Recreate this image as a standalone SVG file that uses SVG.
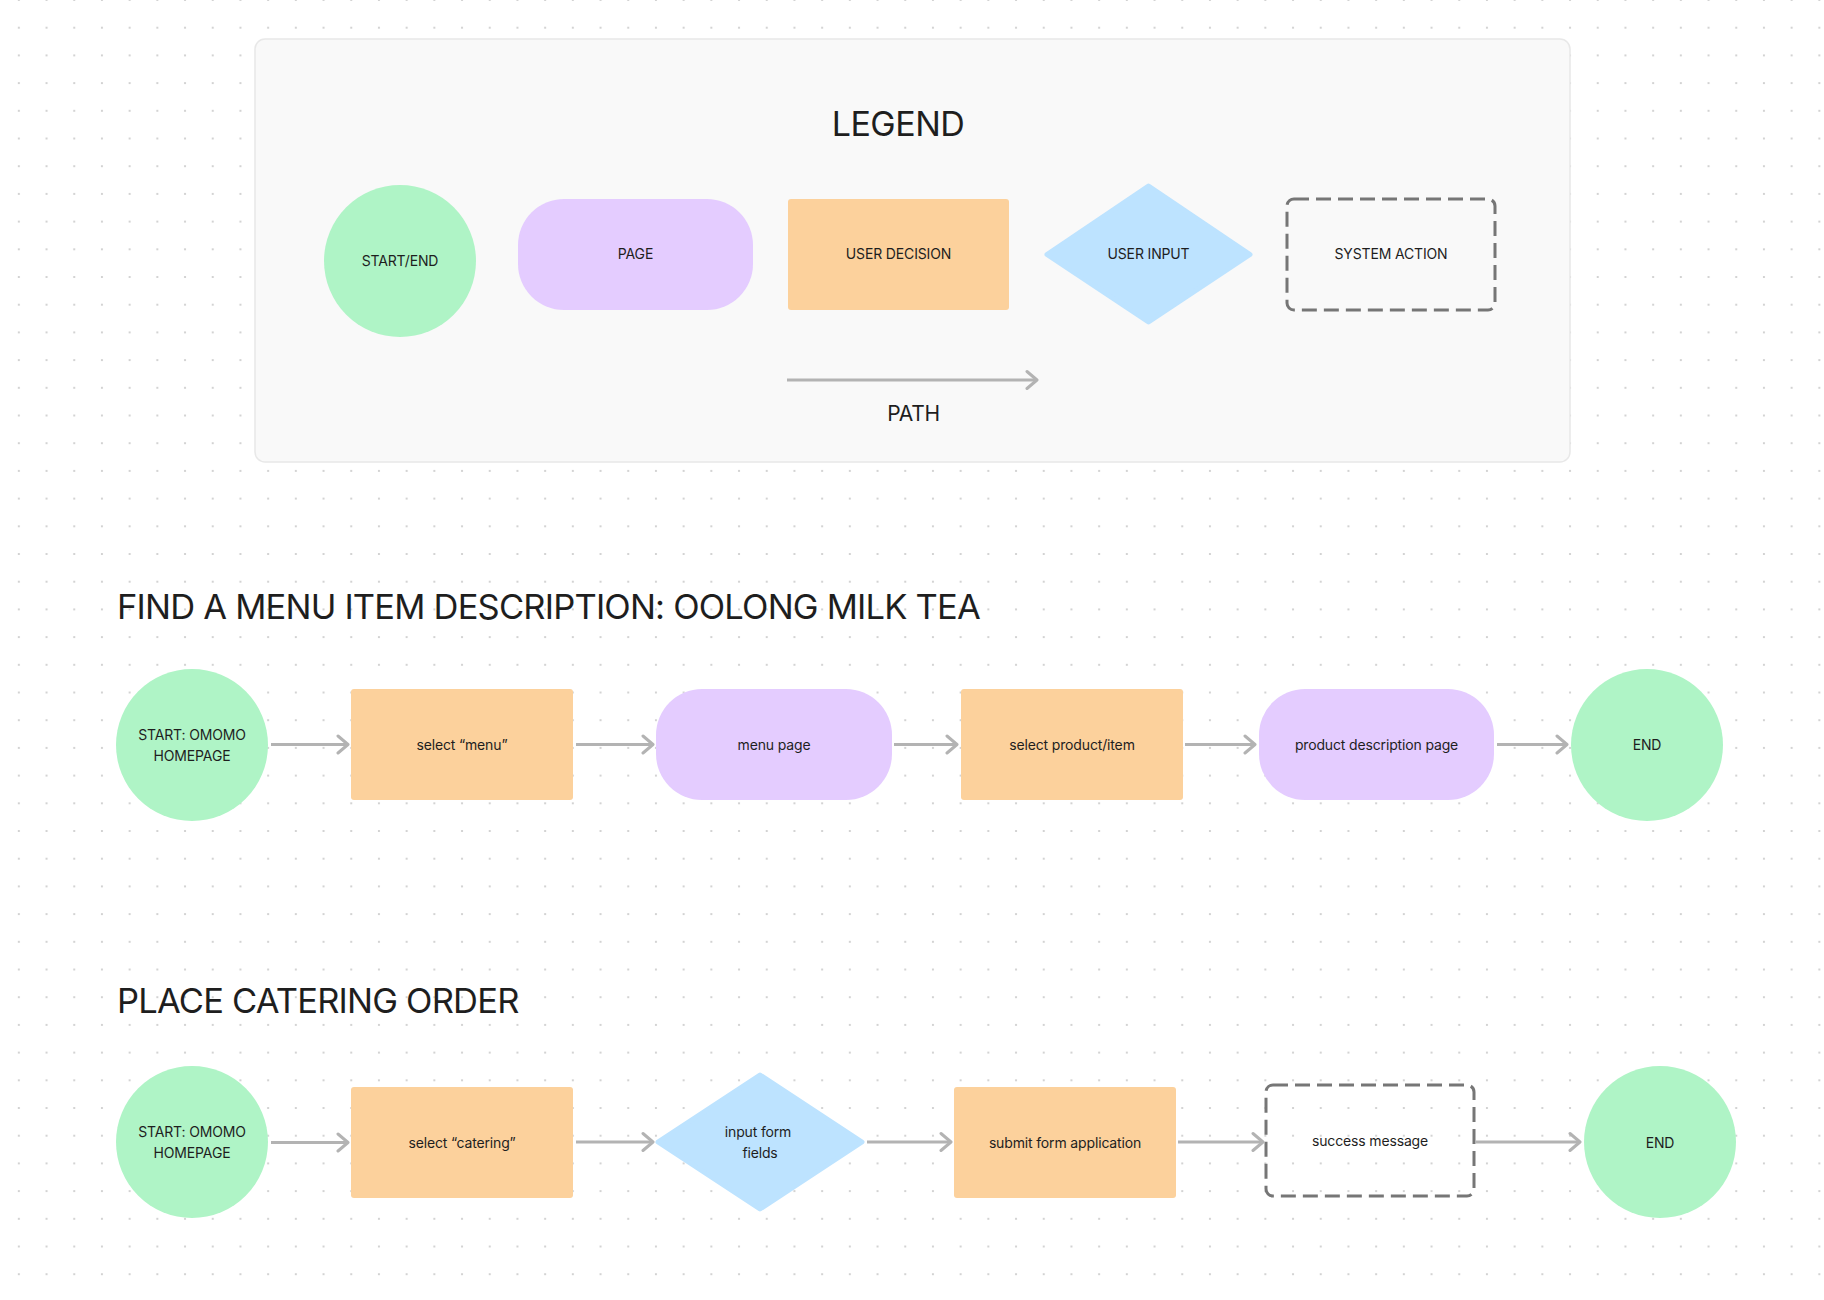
<svg xmlns="http://www.w3.org/2000/svg" width="1824" height="1300" viewBox="0 0 1824 1300">
  <defs>
    <pattern id="dots" x="5" y="-13.85" width="27.7" height="27.7" patternUnits="userSpaceOnUse">
      <circle cx="13.85" cy="13.85" r="1.1" fill="#c9c9c9"/>
    </pattern>
    <marker id="arr" viewBox="0 0 14 22" refX="12" refY="11" markerWidth="14" markerHeight="22" markerUnits="userSpaceOnUse" orient="auto">
      <path d="M2,2.5 L12,11 L2,19.5" fill="none" stroke="#b3b3b3" stroke-width="3" stroke-linecap="round" stroke-linejoin="round"/>
    </marker>
  </defs>
  <style>
    .t { font-family: Inter, "Liberation Sans", sans-serif; fill: #1e1e1e; }
    .lbl { font-size: 14px; letter-spacing: -0.15px; text-anchor: middle; }
    .title { font-size: 34.5px; letter-spacing: -0.8px; }
    .green { fill: #aff4c6; }
    .violet { fill: #e4ccff; }
    .orange { fill: #fcd19c; }
    .blue { fill: #bde3ff; stroke: #bde3ff; stroke-width: 5; stroke-linejoin: round; }
    .dash { fill: none; stroke: #767676; stroke-width: 3; stroke-dasharray: 15 7; }
    .conn { fill: none; stroke: #b3b3b3; stroke-width: 3; marker-end: url(#arr); }
  </style>

  <rect width="1824" height="1300" fill="#ffffff"/>
  <rect width="1824" height="1300" fill="url(#dots)"/>

  <!-- Legend -->
  <g id="legend">
    <rect x="255" y="39" width="1315" height="423" rx="10" fill="#f9f9f9" stroke="#e8e8e8" stroke-width="1.5"/>
    <text class="t" x="898" y="136" font-size="34" letter-spacing="-0.5" text-anchor="middle">LEGEND</text>
  </g>
  <g id="legend-start-end">
    <circle class="green" cx="400" cy="261" r="76"/>
    <text class="t lbl" x="400" y="266">START/END</text>
  </g>
  <g id="legend-page">
    <rect class="violet" x="518" y="199" width="235" height="111" rx="46"/>
    <text class="t lbl" x="635.5" y="259">PAGE</text>
  </g>
  <g id="legend-user-decision">
    <rect class="orange" x="788" y="199" width="221" height="111" rx="3"/>
    <text class="t lbl" x="898.5" y="259">USER DECISION</text>
  </g>
  <g id="legend-user-input">
    <polygon class="blue" points="1148.5,186 1250,254.5 1148.5,322 1047,254.5"/>
    <text class="t lbl" x="1148.5" y="259">USER INPUT</text>
  </g>
  <g id="legend-system-action">
    <rect class="dash" x="1287" y="199" width="208" height="111" rx="7"/>
    <text class="t lbl" x="1391" y="259">SYSTEM ACTION</text>
  </g>
  <g id="legend-path">
    <line class="conn" x1="787" y1="380" x2="1037" y2="380"/>
    <text class="t" x="913.5" y="421" font-size="21" letter-spacing="-0.3" text-anchor="middle">PATH</text>
  </g>

  <!-- Titles -->
  <text id="title-menu" class="t title" x="117" y="619">FIND A MENU ITEM DESCRIPTION: OOLONG MILK TEA</text>
  <text id="title-catering" class="t title" x="117" y="1013">PLACE CATERING ORDER</text>

  <!-- Flow 1 nodes -->
  <g id="f1-start">
    <circle class="green" cx="192" cy="745" r="76"/>
    <text class="t lbl" x="192" y="740">START: OMOMO</text>
    <text class="t lbl" x="192" y="760.5">HOMEPAGE</text>
  </g>
  <g id="f1-select-menu">
    <rect class="orange" x="351" y="689" width="222" height="111" rx="3"/>
    <text class="t lbl" x="462" y="750">select “menu”</text>
  </g>
  <g id="f1-menu-page">
    <rect class="violet" x="656" y="689" width="236" height="111" rx="46"/>
    <text class="t lbl" x="774" y="750">menu page</text>
  </g>
  <g id="f1-select-product">
    <rect class="orange" x="961" y="689" width="222" height="111" rx="3"/>
    <text class="t lbl" x="1072" y="750">select product/item</text>
  </g>
  <g id="f1-product-page">
    <rect class="violet" x="1259" y="689" width="235" height="111" rx="46"/>
    <text class="t lbl" x="1376.5" y="750">product description page</text>
  </g>
  <g id="f1-end">
    <circle class="green" cx="1647" cy="745" r="76"/>
    <text class="t lbl" x="1647" y="750">END</text>
  </g>

  <!-- Flow 2 nodes -->
  <g id="f2-start">
    <circle class="green" cx="192" cy="1142" r="76"/>
    <text class="t lbl" x="192" y="1137">START: OMOMO</text>
    <text class="t lbl" x="192" y="1158">HOMEPAGE</text>
  </g>
  <g id="f2-select-catering">
    <rect class="orange" x="351" y="1087" width="222" height="111" rx="3"/>
    <text class="t lbl" x="462" y="1147.5">select “catering”</text>
  </g>
  <g id="f2-input-form">
    <polygon class="blue" points="760,1075 862,1142 760,1209 658,1142"/>
    <text class="t lbl" x="758" y="1137">input form</text>
    <text class="t lbl" x="760" y="1158">fields</text>
  </g>
  <g id="f2-submit-form">
    <rect class="orange" x="954" y="1087" width="222" height="111" rx="3"/>
    <text class="t lbl" x="1065" y="1147.5">submit form application</text>
  </g>
  <g id="f2-success">
    <rect class="dash" x="1266" y="1085" width="208" height="111" rx="7"/>
    <text class="t lbl" x="1370" y="1145.5">success message</text>
  </g>
  <g id="f2-end">
    <circle class="green" cx="1660" cy="1142" r="76"/>
    <text class="t lbl" x="1660" y="1147.5">END</text>
  </g>

  <!-- Connectors -->
  <g id="connectors">
    <line class="conn" x1="271" y1="744.5" x2="348" y2="744.5"/>
    <line class="conn" x1="576" y1="744.5" x2="653" y2="744.5"/>
    <line class="conn" x1="894" y1="744.5" x2="957" y2="744.5"/>
    <line class="conn" x1="1185" y1="744.5" x2="1255" y2="744.5"/>
    <line class="conn" x1="1497" y1="744.5" x2="1567" y2="744.5"/>

    <line class="conn" x1="271" y1="1142.5" x2="348" y2="1142.5"/>
    <line class="conn" x1="576" y1="1142" x2="653" y2="1142"/>
    <line class="conn" x1="867" y1="1142" x2="951" y2="1142"/>
    <line class="conn" x1="1178" y1="1142" x2="1263" y2="1142"/>
    <line class="conn" x1="1475" y1="1142" x2="1580" y2="1142"/>
  </g>
</svg>
